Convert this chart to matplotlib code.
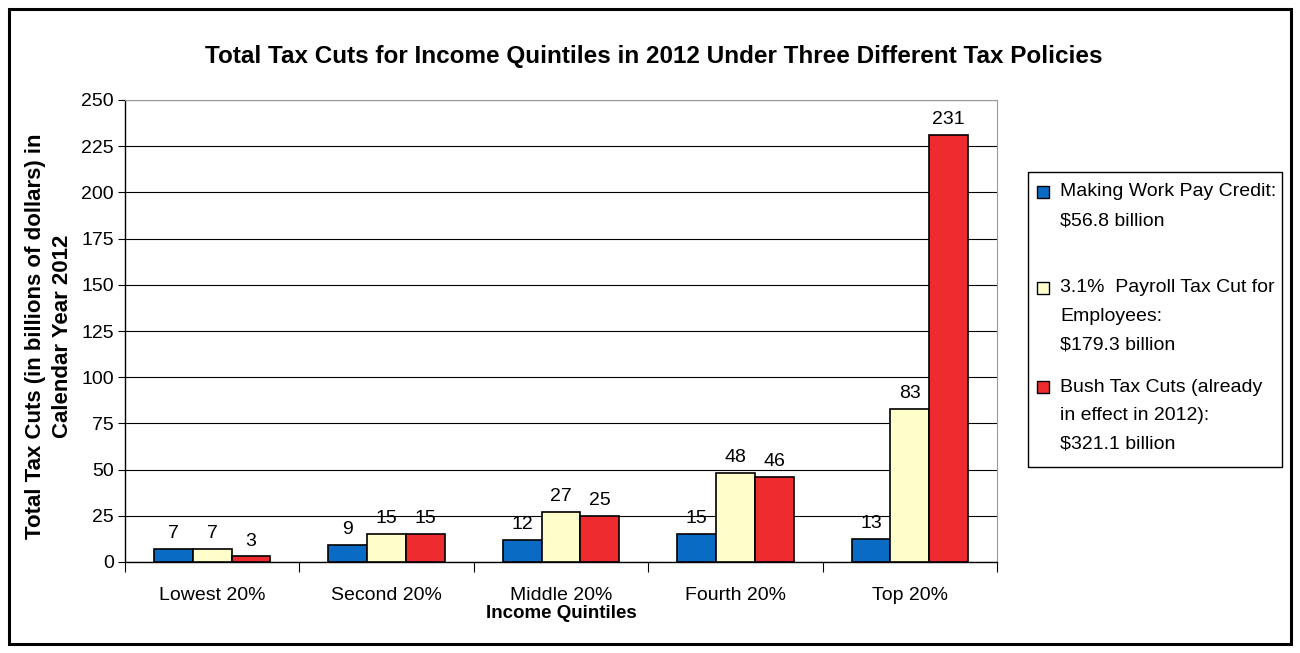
import matplotlib

matplotlib.use("Agg")
import matplotlib.pyplot as plt
import numpy as np
from matplotlib.patches import Rectangle

quintiles = ["Lowest 20%", "Second 20%", "Middle 20%", "Fourth 20%", "Top 20%"]
work_pay = [7, 9, 12, 15, 12.5]
payroll = [7, 15, 27, 48, 83]
bush = [3, 15, 25, 46, 231]

series_names = [
    ["Making Work Pay Credit:", "$56.8 billion"],
    ["3.1%  Payroll Tax Cut for", "Employees:", "$179.3 billion"],
    ["Bush Tax Cuts (already", "in effect in 2012):", "$321.1 billion"],
]
colors = ["#0A6BC4", "#FFFFCC", "#EE2C2F"]
yticks = np.arange(0, 251, 25)

plt.rcParams["font.family"] = ["Liberation Sans", "DejaVu Sans"]

W, H = 1300, 653
fig = plt.figure(figsize=(W / 100, H / 100), dpi=100)
fig.patches.append(Rectangle((9 / W, 9 / H), 1 - 18 / W, 1 - 18 / H,
                             transform=fig.transFigure, fill=False,
                             edgecolor="black", lw=2.2))

ax = fig.add_axes([125 / W, 1 - 562 / H, (997 - 125) / W, (562 - 100) / H])

x = np.arange(len(quintiles))
bw = 1 / 4.5
for k, (vals, c) in enumerate(zip([work_pay, payroll, bush], colors)):
    bars = ax.bar(x + (k - 1) * bw, vals, width=bw, color=c,
                  edgecolor="black", lw=1.2, zorder=3)
    for b, v in zip(bars, vals):
        ax.annotate(f"{int(v + 0.5)}", (b.get_x() + b.get_width() / 2, v),
                    xytext=(0, 5), textcoords="offset points",
                    ha="center", va="bottom", fontsize=14)

ax.set_xlim(-0.5, len(quintiles) - 0.5)
ax.set_ylim(0, 250)
ax.set_yticks(yticks)
ax.yaxis.grid(True, color="black", lw=0.8)
ax.set_axisbelow(True)
ax.tick_params(axis="y", length=5, width=0.8, labelsize=14, pad=3)

ax.set_xticks(np.arange(-0.5, len(quintiles)), minor=False)
ax.set_xticklabels([])
ax.set_xticks(x, minor=True)
ax.set_xticklabels(quintiles, minor=True, fontsize=14)
ax.tick_params(axis="x", which="major", length=7, width=0.8)
ax.tick_params(axis="x", which="minor", length=0, pad=18)

for s in ["top", "right"]:
    ax.spines[s].set_color("#999999")
for s in ["left", "bottom"]:
    ax.spines[s].set_color("black")
    ax.spines[s].set_linewidth(1.0)

ax.set_xlabel("Income Quintiles", fontsize=13.5, fontweight="bold", labelpad=1)
fig.text(49 / W, 1 - 336 / H,
         "Total Tax Cuts (in billions of dollars) in\nCalendar Year 2012",
         rotation=90, ha="center", va="center", fontsize=16,
         fontweight="bold", linespacing=1.35)

fig.text(654 / W, 1 - 57 / H,
         "Total Tax Cuts for Income Quintiles in 2012 Under Three Different Tax Policies",
         ha="center", va="center", fontsize=17.5, fontweight="bold")

# legend box drawn by hand to keep the Excel-like spacing
fig.patches.append(Rectangle((1028 / W, 1 - 467 / H), 254 / W, 295 / H,
                             transform=fig.transFigure, fill=False,
                             edgecolor="black", lw=1.0))
first_lines = [192, 288, 387]
for lines, c, y0 in zip(series_names, colors, first_lines):
    fig.patches.append(Rectangle((1037 / W, 1 - (y0 + 6) / H), 12 / W, 12 / H,
                                 transform=fig.transFigure, facecolor=c,
                                 edgecolor="black", lw=1.0))
    for i, line in enumerate(lines):
        fig.text(1060 / W, 1 - (y0 + 28.5 * i) / H, line.replace("$", r"\$"),
                 ha="left", va="center", fontsize=14)

fig.savefig("out.png", dpi=100)
